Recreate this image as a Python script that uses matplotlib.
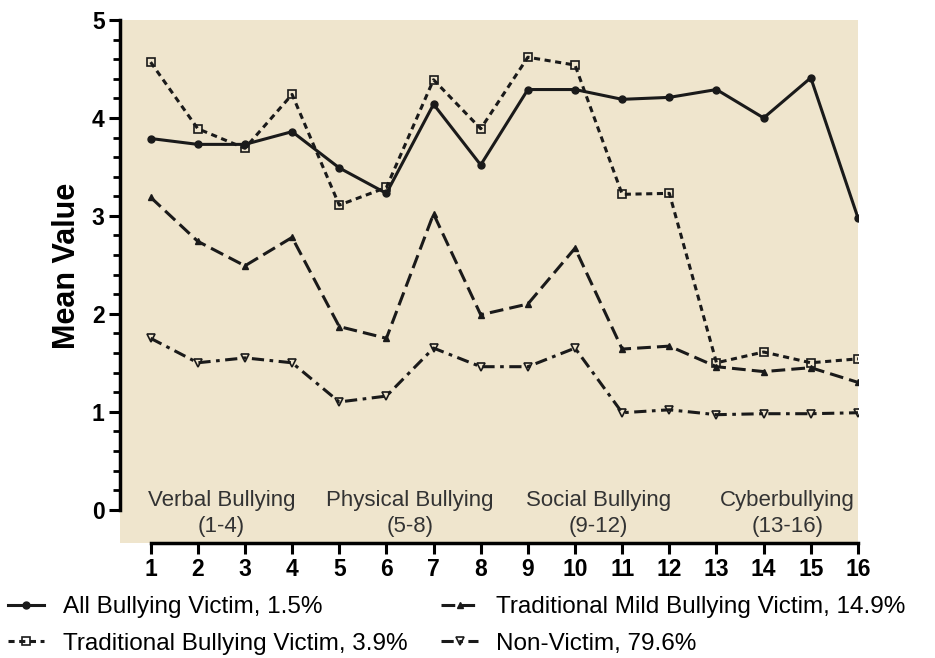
import matplotlib.pyplot as plt
from matplotlib.ticker import FixedLocator

plt.rcParams['font.family'] = ['Liberation Sans', 'DejaVu Sans']

# Items 1-16
items = list(range(1, 17))

all_victim = [3.79, 3.73, 3.73, 3.86, 3.49, 3.23, 4.14, 3.52,
              4.29, 4.29, 4.19, 4.21, 4.29, 4.00, 4.41, 2.98]
trad_victim = [4.57, 3.89, 3.69, 4.24, 3.11, 3.29, 4.39, 3.89,
               4.62, 4.54, 3.22, 3.23, 1.50, 1.61, 1.50, 1.54]
mild_victim = [3.19, 2.74, 2.49, 2.78, 1.87, 1.75, 3.02, 1.99,
               2.10, 2.67, 1.64, 1.67, 1.46, 1.41, 1.45, 1.30]
non_victim = [1.75, 1.50, 1.55, 1.50, 1.10, 1.16, 1.65, 1.46,
              1.46, 1.65, 0.99, 1.02, 0.97, 0.98, 0.98, 0.99]

group_names = ["Verbal Bullying\n(1-4)", "Physical Bullying\n(5-8)",
               "Social Bullying\n(9-12)", "Cyberbullying\n(13-16)"]
group_centers = [2.5, 6.5, 10.5, 14.5]

fig = plt.figure(figsize=(9.35, 6.58), dpi=100)
ax = fig.add_axes([0.1283, 0.1748, 0.7893, 0.7948])
ax.set_facecolor('#efe5cd')

ink = '#1a1a1a'
ax.plot(items, all_victim, color=ink, lw=2.2, marker='o', ms=5,
        label="All Bullying Victim, 1.5%")
ax.plot(items, trad_victim, color=ink, lw=2.2, ls=(0, (2.0, 1.5)),
        marker='s', ms=6, mfc='none', mew=1.2,
        label="Traditional Bullying Victim, 3.9%")
ax.plot(items, mild_victim, color=ink, lw=2.2, ls=(0, (4.5, 2.0)),
        marker='^', ms=5,
        label="Traditional Mild Bullying Victim, 14.9%")
ax.plot(items, non_victim, color=ink, lw=2.2, ls=(0, (4, 1.8, 1.2, 1.8)),
        marker='v', ms=6, mfc='none', mew=1.2,
        label="Non-Victim, 79.6%")

for name, cx in zip(group_names, group_centers):
    ax.text(cx, -0.04, name, ha='center', va='center', fontsize=16,
            color='#333333', linespacing=1.3)

ax.set_xlim(0.35, 16)
ax.set_ylim(-0.34, 5)
ax.set_xticks(items)
ax.set_yticks([0, 1, 2, 3, 4, 5])
ax.yaxis.set_minor_locator(FixedLocator([i / 5 for i in range(26)]))

for side in ['top', 'right']:
    ax.spines[side].set_visible(False)
ax.spines['left'].set_bounds(0, 5)
ax.spines['bottom'].set_bounds(1, 16)
ax.spines['left'].set_linewidth(2.5)
ax.spines['bottom'].set_linewidth(2.5)

ax.tick_params(axis='both', which='major', length=8, width=2.2,
               labelsize=16.5, pad=3)
ax.tick_params(axis='y', which='minor', length=5, width=2.0)
for lbl in ax.get_xticklabels() + ax.get_yticklabels():
    lbl.set_fontweight('bold')

ax.set_ylabel("Mean Value", fontsize=22, fontweight='bold')
ax.yaxis.set_label_coords(-0.052, 0.53)

fig.legend(loc='upper left', bbox_to_anchor=(8 / 935, 1 - 596 / 658),
           borderaxespad=0, borderpad=0, ncol=2,
           frameon=False, fontsize=17.5, handlelength=1.5,
           columnspacing=1.4, labelspacing=0.6, handletextpad=0.75)

fig.savefig("out.png", dpi=100)
